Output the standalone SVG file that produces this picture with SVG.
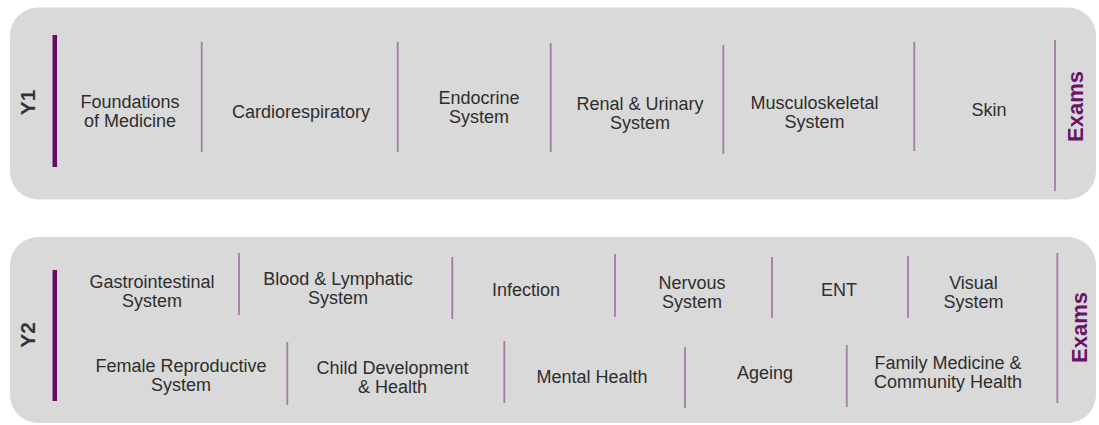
<svg xmlns="http://www.w3.org/2000/svg" width="1099" height="425" viewBox="0 0 1099 425">
<style>
.panel{fill:#d9d9d9}
.t{font-family:"Liberation Sans",Arial,sans-serif;font-size:18px;fill:#2e2e2e;text-anchor:middle}
.yr{font-family:"Liberation Sans",Arial,sans-serif;font-size:21px;font-weight:bold;fill:#333333;text-anchor:middle}
.ex{font-family:"Liberation Sans",Arial,sans-serif;font-size:22px;font-weight:bold;fill:#6a1466;text-anchor:middle}
.bar{stroke:#650d63;stroke-width:4.5;fill:none}
.div{stroke:#a47ba4;stroke-width:1.8;fill:none}
</style>
<rect fill="#ffffff" x="0" y="0" width="1099" height="425"/>

<g id="panel-y1">
  <rect class="panel" x="10" y="7.5" width="1086" height="192" rx="28" ry="28"/>
  <line class="bar" x1="54.8" y1="35" x2="54.8" y2="167"/>
  <text class="yr" transform="translate(27,102.5) rotate(-90)" x="0" y="7.5">Y1</text>
  <text class="ex" transform="translate(1074.5,106.5) rotate(-90)" x="0" y="8">Exams</text>
</g>

<g id="panel-y2">
  <rect class="panel" x="10" y="237" width="1086" height="186" rx="28" ry="28"/>
  <line class="bar" x1="54.8" y1="270" x2="54.8" y2="401"/>
  <text class="yr" transform="translate(27,335) rotate(-90)" x="0" y="7.5">Y2</text>
  <text class="ex" transform="translate(1079,327.5) rotate(-90)" x="0" y="8">Exams</text>
</g>

<g id="dividers">
  <line class="div" x1="201.7" y1="42" x2="201.7" y2="152"/>
  <line class="div" x1="397.7" y1="42" x2="397.7" y2="152"/>
  <line class="div" x1="550.7" y1="43" x2="550.7" y2="152"/>
  <line class="div" x1="723.3" y1="45" x2="723.3" y2="154"/>
  <line class="div" x1="914.3" y1="42" x2="914.3" y2="151"/>
  <line class="div" x1="1055" y1="40" x2="1055" y2="191"/>
  <line class="div" x1="239" y1="253" x2="239" y2="315"/>
  <line class="div" x1="452.3" y1="257" x2="452.3" y2="319"/>
  <line class="div" x1="615" y1="254" x2="615" y2="317"/>
  <line class="div" x1="772" y1="257" x2="772" y2="318"/>
  <line class="div" x1="908" y1="256" x2="908" y2="318"/>
  <line class="div" x1="287.3" y1="342" x2="287.3" y2="405"/>
  <line class="div" x1="504.3" y1="341" x2="504.3" y2="403"/>
  <line class="div" x1="685" y1="347" x2="685" y2="408"/>
  <line class="div" x1="846.7" y1="345" x2="846.7" y2="407"/>
  <line class="div" x1="1057.3" y1="253" x2="1057.3" y2="403"/>
</g>

<g id="foundations"><text class="t" x="130" y="108">Foundations</text><text class="t" x="130" y="127">of Medicine</text></g>
<g id="cardiorespiratory"><text class="t" x="301" y="118">Cardiorespiratory</text></g>
<g id="endocrine"><text class="t" x="479" y="104">Endocrine</text><text class="t" x="479" y="123">System</text></g>
<g id="renal"><text class="t" x="640" y="110">Renal &amp; Urinary</text><text class="t" x="640" y="129">System</text></g>
<g id="musculoskeletal"><text class="t" x="814.5" y="109">Musculoskeletal</text><text class="t" x="814.5" y="128">System</text></g>
<g id="skin"><text class="t" x="989" y="116">Skin</text></g>

<g id="gastrointestinal"><text class="t" x="152" y="288">Gastrointestinal</text><text class="t" x="152" y="307">System</text></g>
<g id="blood"><text class="t" x="338" y="285">Blood &amp; Lymphatic</text><text class="t" x="338" y="304">System</text></g>
<g id="infection"><text class="t" x="526" y="296">Infection</text></g>
<g id="nervous"><text class="t" x="692" y="289">Nervous</text><text class="t" x="692" y="308">System</text></g>
<g id="ent"><text class="t" x="839" y="296">ENT</text></g>
<g id="visual"><text class="t" x="973.5" y="289">Visual</text><text class="t" x="973.5" y="308">System</text></g>
<g id="female"><text class="t" x="181" y="372">Female Reproductive</text><text class="t" x="181" y="391">System</text></g>
<g id="child"><text class="t" x="392.5" y="374">Child Development</text><text class="t" x="392.5" y="393">&amp; Health</text></g>
<g id="mental"><text class="t" x="592" y="383">Mental Health</text></g>
<g id="ageing"><text class="t" x="765" y="379">Ageing</text></g>
<g id="family"><text class="t" x="948" y="369">Family Medicine &amp;</text><text class="t" x="948" y="388">Community Health</text></g>
</svg>
